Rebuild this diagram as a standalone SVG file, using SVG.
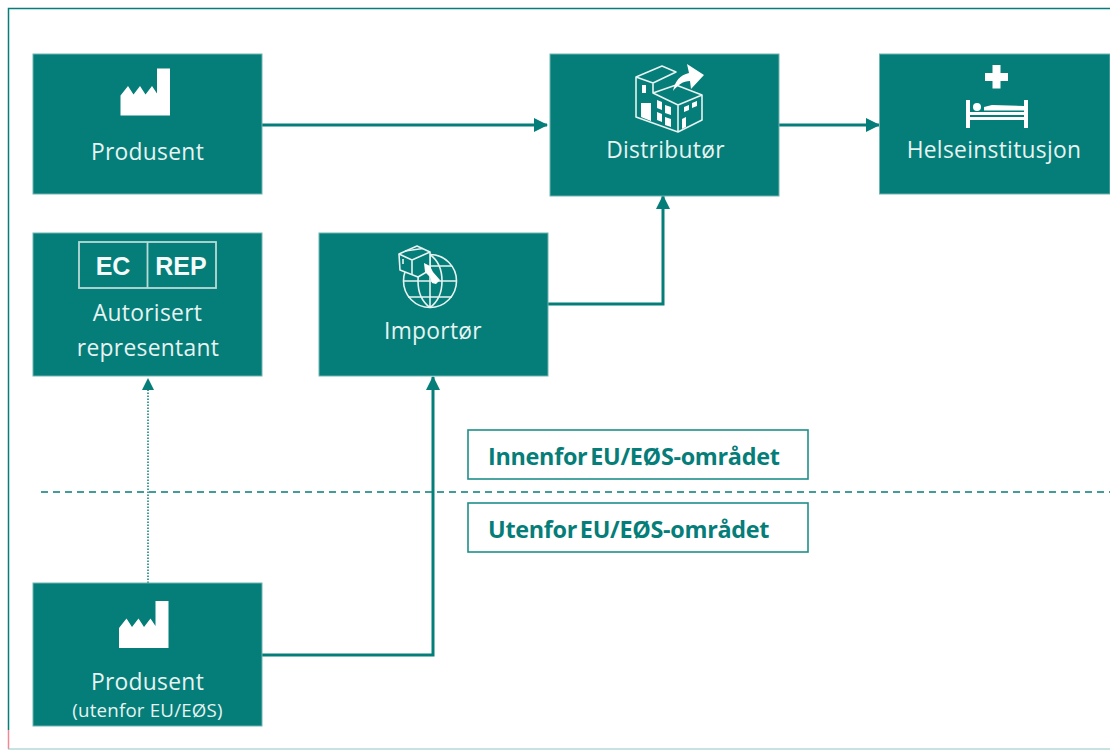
<svg xmlns="http://www.w3.org/2000/svg" width="1110" height="750" viewBox="0 0 1110 750">
<style>
.box{fill:#057d78;stroke:#6fb5b1;stroke-width:1}
.t{font-family:"Open Sans","Noto Sans",sans-serif;fill:#e6f3f2;text-anchor:middle;font-size:22.800px;letter-spacing:.3px}
.s{font-size:18.700px;letter-spacing:.2px}
.lab{fill:#fff;stroke:#1f8f8a;stroke-width:1.600}
.lt{font-family:"Open Sans","Noto Sans",sans-serif;font-weight:700;font-size:23.400px;fill:#057d78;letter-spacing:-.3px;word-spacing:-3px}
.c{fill:none;stroke:#057d78;stroke-width:3}
.i{fill:none;stroke:#e6f3f2;stroke-width:1.600;stroke-linejoin:round}
.w{fill:#fff}
</style>
<defs>
<marker id="a" markerUnits="userSpaceOnUse" markerWidth="14" markerHeight="14" refX="13" refY="7" orient="auto"><path d="M0 0L14 7L0 14z" fill="#057d78"/></marker>
<path id="factory" d="M0 47V27L7.500 17.500L13 26L19.500 17.500L25 26L31.500 17.500L36.500 25V0H49.500V47z"/>
</defs>
<rect width="1110" height="750" fill="#fff"/>
<g id="frame" fill="none">
<path d="M8.500 730V8.500H1110" stroke="#057d78" stroke-width="1.500"/>
<path d="M8.500 730V749" stroke="#f08a92" stroke-width="1.500"/>
<path d="M8 749H1110" stroke="#8fc6c3" stroke-width="1"/>
</g>
<g id="connectors">
<path class="c" d="M262 125H547" marker-end="url(#a)"/>
<path class="c" d="M779 125H879" marker-end="url(#a)"/>
<path class="c" d="M548 304H663V196" marker-end="url(#a)"/>
<path class="c" d="M262 655H433V377" marker-end="url(#a)"/>
<path d="M148 583V385" fill="none" stroke="#057d78" stroke-width="1.500" stroke-dasharray="1.500 1.500"/>
<path d="M142 390L148 378L154 390z" fill="#057d78"/>
<path d="M41 492H1110" fill="none" stroke="#057d78" stroke-width="1.500" stroke-dasharray="7 5"/>
</g>
<g id="produsent">
<rect class="box" x="33" y="54" width="229" height="140"/>
<use href="#factory" x="120.500" y="68.500" class="w"/>
<text class="t" x="147.500" y="160">Produsent</text>
</g>
<g id="distributor">
<rect class="box" x="550" y="54" width="229" height="142"/>
<path class="i" d="M636 77L662 66L676 72L653 83zM636 77V117L678 132L702 120V95L676 85L653 93L678 105L702 95M653 83V93M678 105V132"/>
<path class="w" d="M642 85H646V93H642zM641 103H651V121L641 117zM657 100L662 102V110L657 108zM665 105L671 107V115L665 113zM657 112L662 114V122L657 120zM665 117L671 119V127L665 125zM684 107L689 105V110L684 112zM692 103L697 101V106L692 108zM682 119L686 117V127L682 129z"/>
<path class="w" d="M673 91C675 81 680 75 689 73L687 64L704 75L691 89L690 81C683 81 678 85 673 91z"/>
<text class="t" x="665.500" y="158">Distributør</text>
</g>
<g id="helseinstitusjon">
<rect class="box" x="879.500" y="54" width="230.500" height="140"/>
<path class="w" d="M992.500 65H1000.500V73H1008V81H1000.500V88.500H992.500V81H985V73H992.500z"/>
<path class="w" d="M966 100H970V112H1024V100H1028V128H1024V120H970V128H966zM970 115H1024V117H970z" fill-rule="evenodd"/>
<circle class="w" cx="977" cy="107" r="4"/>
<path class="w" d="M984 107L992 105L1024 106V110.500H984z"/>
<text class="t" x="994" y="158">Helseinstitusjon</text>
</g>
<g id="autorisert">
<rect class="box" x="33" y="233" width="229" height="143"/>
<rect x="79" y="242" width="137" height="46" fill="none" stroke="#b8dbd8" stroke-width="1.800"/>
<path d="M147.500 242V288" stroke="#b8dbd8" stroke-width="1.800"/>
<text x="113" y="275" font-family="Liberation Sans,sans-serif" font-weight="700" font-size="25" fill="#f4fafa" text-anchor="middle">EC</text>
<text x="181" y="275" font-family="Liberation Sans,sans-serif" font-weight="700" font-size="25" fill="#f4fafa" text-anchor="middle">REP</text>
<text class="t" x="147.500" y="321">Autorisert</text>
<text class="t" x="148" y="356">representant</text>
</g>
<g id="importor">
<rect class="box" x="319" y="233" width="229" height="143"/>
<circle class="i" cx="430" cy="281" r="26.500"/>
<path class="i" d="M403.500 281H456.500M408 266H452M408 297H452M430 254.500V307.500M430 254.500C414 266 414 296 430 307.500M430 254.500C446 266 446 296 430 307.500"/>
<path d="M399 254L417 246L430 252V270L418 277L400 270z" fill="#057d78" stroke="#e6f3f2" stroke-width="1.600" stroke-linejoin="round"/>
<path class="i" d="M399 254L412 260L430 252M412 260V275M405 251L423 248.500M403 259V264"/>
<path class="w" d="M424 263L430 266L433 272L440 280L436 284L432 283L430 277L425 272z"/>
<text class="t" x="433" y="339">Importør</text>
</g>
<g id="produsent-utenfor">
<rect class="box" x="33" y="583" width="229" height="143"/>
<use href="#factory" x="119" y="601" class="w"/>
<text class="t" x="147.500" y="690">Produsent</text>
<text class="t s" x="147.500" y="717">(utenfor EU/EØS)</text>
</g>
<g id="innenfor">
<rect class="lab" x="468" y="430" width="340" height="49"/>
<text class="lt" x="488" y="465">Innenfor EU/EØS-området</text>
</g>
<g id="utenfor">
<rect class="lab" x="468" y="503" width="340" height="49"/>
<text class="lt" x="488" y="538">Utenfor EU/EØS-området</text>
</g>
</svg>
